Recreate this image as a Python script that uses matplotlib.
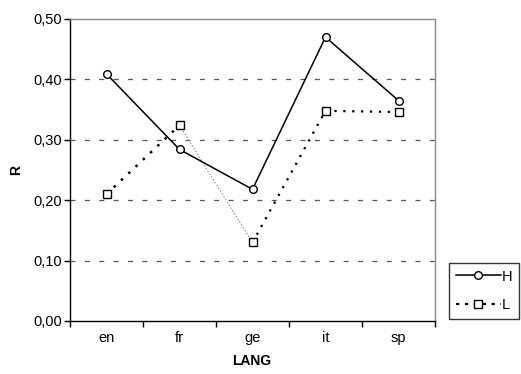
import matplotlib
matplotlib.use("Agg")
import matplotlib.pyplot as plt
from matplotlib.ticker import FuncFormatter
from matplotlib.lines import Line2D

plt.rcParams['font.family'] = ['Liberation Sans', 'DejaVu Sans']

categories = ["en", "fr", "ge", "it", "sp"]
H = [0.409, 0.284, 0.218, 0.470, 0.365]
L = [0.210, 0.324, 0.130, 0.348, 0.346]

fig = plt.figure(figsize=(5.21, 3.74), dpi=100)
W, Hh = 521, 374
ax = fig.add_axes([70 / W, 1 - 321 / Hh, (435 - 70) / W, (321 - 19) / Hh])

x = list(range(len(categories)))
ax.set_xlim(-0.5, len(categories) - 0.5)
ax.set_ylim(0, 0.5)

for yv in [0.1, 0.2, 0.3, 0.4]:
    ax.axhline(yv, color="#555555", lw=0.9, ls=(0, (4, 7.5)), zorder=1)

ax.plot(x, H, color="black", lw=1.1, marker="o", markersize=5.5,
        markerfacecolor="white", markeredgecolor="black", markeredgewidth=1.0, zorder=3)

seg_styles = [(1.8, "black"), (0.6, "#777777"), (1.6, "black"), (1.6, "black")]
for i in range(len(x) - 1):
    lw, c = seg_styles[i]
    ax.plot(x[i:i + 2], L[i:i + 2], color=c, lw=lw, ls=(0, (1, 3)) if lw > 1 else (0, (2, 2)), zorder=2)
ax.plot(x, L, ls="none", marker="s", markersize=5.5, markerfacecolor="white",
        markeredgecolor="black", markeredgewidth=1.0, zorder=4)

ax.set_xticks([i - 0.5 for i in range(len(categories) + 1)])
ax.set_xticklabels([])
ax.set_xticks(x, minor=True)
ax.set_xticklabels(categories, minor=True)
ax.tick_params(axis="x", which="minor", length=0, pad=7, labelsize=10.5)
ax.tick_params(axis="x", which="major", length=4, direction="out", width=1)
ax.set_yticks([0, 0.1, 0.2, 0.3, 0.4, 0.5])
ax.yaxis.set_major_formatter(FuncFormatter(lambda v, p: f"{v:.2f}".replace(".", ",")))
ax.tick_params(axis="y", length=4, direction="out", width=1, labelsize=10.5, pad=2)

for s in ["top", "right"]:
    ax.spines[s].set_color("#888888")
    ax.spines[s].set_linewidth(1.0)
for s in ["left", "bottom"]:
    ax.spines[s].set_color("black")
    ax.spines[s].set_linewidth(1.0)

fig.text(16 / W, 1 - 170 / Hh, "R", fontsize=10, fontweight="bold", rotation=90,
         ha="center", va="center")
fig.text(252 / W, 1 - 361 / Hh, "LANG", fontsize=10, fontweight="bold", ha="center", va="center")

handles = [
    Line2D([], [], color="black", lw=1.1, marker="o", markersize=5.5, markerfacecolor="white",
           markeredgecolor="black"),
    Line2D([], [], color="black", lw=1.6, ls=(0, (1.5, 2.5)), marker="s", markersize=5.5,
           markerfacecolor="white", markeredgecolor="black"),
]
leg = fig.legend(handles, ["H", "L"], loc="upper left", bbox_to_anchor=(449 / W, 1 - 263 / Hh),
                 frameon=True, fancybox=False, edgecolor="black", fontsize=10.5,
                 handlelength=3.1, handletextpad=0.1, borderpad=0.45, labelspacing=1.0,
                 borderaxespad=0)
leg.get_frame().set_linewidth(1.0)

fig.savefig("out.png", dpi=100)
